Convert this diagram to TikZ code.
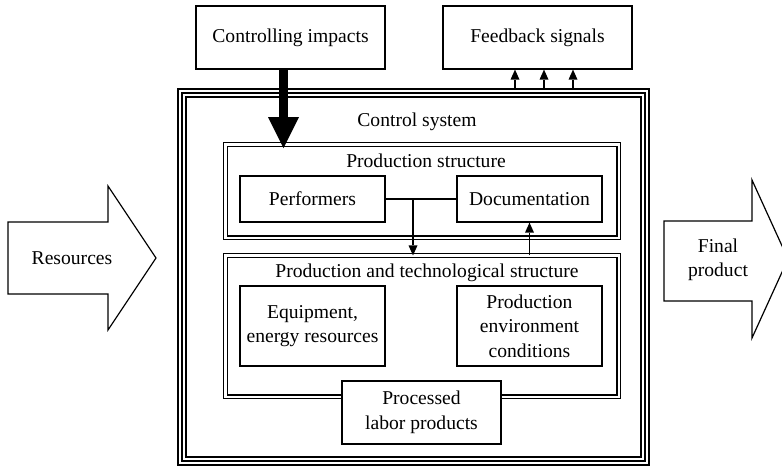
\documentclass[tikz,border=0pt]{standalone}
\usepackage{fontspec}
\setmainfont{Liberation Serif}
\usetikzlibrary{arrows.meta}
\tikzset{
 box/.style={draw,line width=1.2pt,fill=white,align=center,inner sep=0pt,font=\fontsize{19.6}{24.5}\selectfont},
 lbl/.style={align=center,font=\fontsize{19.6}{24.5}\selectfont},
 dframe/.style={draw,double,line width=1.4pt,double distance=2.2pt,outer sep=0pt,inner sep=0pt},
 tframe/.style={draw,double,line width=2.2pt,double distance=5.6pt,outer sep=0pt,inner sep=0pt},
 bigarrow/.style={line width=9.5pt,-{Triangle[width=31pt,length=31pt,line width=0pt]}},
 smallarrow/.style={line width=1.3pt,-{Triangle[width=9pt,length=10pt,line width=0pt]}},
 fatarrow/.style={draw,line width=1.2pt,fill=white,line join=miter}
}
\begin{document}
\begin{tikzpicture}[x=1pt,y=-1pt]
 \useasboundingbox (0,0) rectangle (782,467);
 \clip (0,0) rectangle (782,467);
 \node[tframe,minimum width=463pt,minimum height=368pt] (cs) at (413.5,277) {};
 \draw[line width=1.5pt] (cs.north west) rectangle (cs.south east);
 \node[lbl] (cslbl) at (417,122) {Control system};
 \node[dframe,minimum width=393.2pt,minimum height=93.2pt] (ps) at (422,191) {};
 \node[lbl] (pslbl) at (426,161) {Production structure};
 \node[dframe,minimum width=393.2pt,minimum height=141.2pt] (pt) at (422,326) {};
 \node[lbl] (ptlbl) at (427,273) {Production and technological structure};
 \node[box,minimum width=145pt,minimum height=46pt] (perf) at (312.5,199) {Performers};
 \node[box,minimum width=145pt,minimum height=46pt] (doc) at (529.5,199) {Documentation};
 \node[box,minimum width=145pt,minimum height=80pt] (equip) at (312.5,326) {Equipment,\\energy resources};
 \node[box,minimum width=145pt,minimum height=80pt] (env) at (529.5,326) {Production\\environment\\conditions};
 \node[box,minimum width=159pt,minimum height=63pt] (proc) at (421.5,412.5) {Processed\\labor products};
 \node[box,minimum width=189pt,minimum height=63pt] (ctrl) at (290.5,37.5) {Controlling impacts};
 \node[box,minimum width=189pt,minimum height=63pt] (fb) at (537.5,37.5) {Feedback signals};
 \draw[fatarrow] (8,222) -- (108,222) -- (108,186) -- (156,258) -- (108,330) -- (108,294) -- (8,294) -- cycle;
 \node[lbl] (res) at (72,258) {Resources};
 \draw[fatarrow] (664,221) -- (752,221) -- (752,180) -- (788,259) -- (752,338) -- (752,301) -- (664,301) -- cycle;
 \node[lbl] (fin) at (718,260) {Final\\product};
 \coordinate (bigtip) at (283.5,148);
 \draw[bigarrow] (ctrl.south -| bigtip) -- (bigtip);
 \draw[line width=1.2pt] (perf.east) -- (doc.west);
 \coordinate (split) at (413,198);
 \draw[smallarrow] (split) -- (split |- pt.north);
 \draw[smallarrow] (doc.south |- pt.north) -- (doc.south);
 \coordinate (fbbase) at (544,88);
 \foreach \dx in {-29,0,29}
  \draw[smallarrow] ([xshift=\dx pt]fbbase) -- ([xshift=\dx pt]fbbase |- fb.south);
\end{tikzpicture}
\end{document}
